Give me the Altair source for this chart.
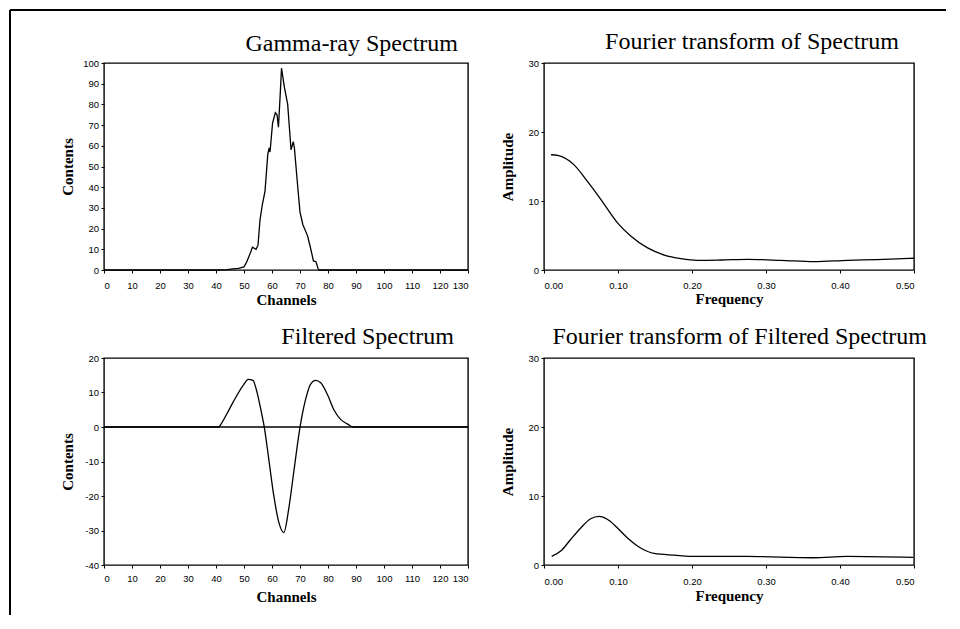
import altair as alt
import pandas as pd

# ---- Gamma-ray spectrum (channels vs contents) ----
gamma_channels = [0, 10, 20, 30, 40, 44, 46, 48, 50, 51, 52.5, 53, 54.3, 55, 55.7,
                  56.6, 57.5, 58.5, 59, 59.3, 60.2, 61.2, 61.8, 62.3, 62.9,
                  63.4, 64.4, 65.6, 66.8, 67.6, 68, 69.2, 70, 71, 72.7,
                  73.7, 74.8, 75.7, 76.5, 77, 80, 90, 100, 110, 120, 130]
gamma_contents = [0, 0, 0, 0, 0, 0.2, 0.5, 0.8, 1.5, 4, 9, 11, 10, 12, 24,
                  32, 38, 56, 59, 57, 71, 76, 75, 69, 84,
                  97.5, 88.5, 80, 58, 62, 59, 40, 28, 22, 16.5,
                  11, 4.4, 4, 0.5, 0, 0, 0, 0, 0, 0, 0]

# ---- Fourier transform of spectrum ----
fft_freq = [0.0095, 0.0185, 0.041, 0.059, 0.077, 0.0996, 0.1176, 0.14,
            0.1626, 0.185, 0.2077, 0.24, 0.275, 0.32, 0.365, 0.41, 0.45, 0.5]
fft_amp = [16.7, 16.6, 15.2, 12.8, 10.2, 6.8, 4.9, 3.2,
           2.16, 1.64, 1.4, 1.45, 1.54, 1.4, 1.2, 1.4, 1.5, 1.7]

# ---- Filtered spectrum ----
filt_channels = [0, 41, 41.5, 44, 46.3, 49.9, 51.5, 53.2, 54.7, 55.9, 57.3, 58.8,
                 60.6, 62.4, 64.2, 66, 67.8, 69.6, 70.8, 72, 73.7, 75.6,
                 77.4, 79.8, 82.1, 84.5, 86.9, 89, 130]
filt_contents = [0, 0, 0.5, 4, 7.5, 12.3, 13.8, 13.5, 9.9, 5.5, -0.3, -9,
                 -19.7, -27.5, -30.6, -23.6, -12.9, -2.2, 3.6, 8, 12.3, 13.5,
                 12.8, 9.4, 5, 2.2, 0.9, 0, 0]

# ---- Fourier transform of filtered spectrum ----
ffft_freq = [0.0104, 0.023, 0.036, 0.05, 0.063, 0.0745, 0.086, 0.099, 0.1125,
             0.13, 0.149, 0.176, 0.207, 0.274, 0.364, 0.409, 0.499]
ffft_amp = [1.24, 2.05, 3.7, 5.4, 6.7, 7.05, 6.6, 5.4, 3.95,
            2.5, 1.67, 1.43, 1.24, 1.24, 1.05, 1.24, 1.1]

channel_ticks = list(range(0, 131, 10))
contents_ticks = list(range(0, 101, 10))
filt_ticks = [-40, -30, -20, -10, 0, 10, 20]
freq_ticks = [0.0, 0.1, 0.2, 0.3, 0.4, 0.5]
amp_ticks = [0, 10, 20, 30]

titles = ["Gamma-ray Spectrum", "Fourier transform of Spectrum",
          "Filtered Spectrum", "Fourier transform of Filtered Spectrum"]

W1, W2, H = 364, 370, 207
LINE = dict(color="black", strokeWidth=1.3)


def ptitle(text, dx, off):
    return alt.TitleParams(text=text, anchor="end", frame="group", dx=dx, offset=off,
                           baseline="alphabetic", font="Liberation Serif",
                           fontSize=24, fontWeight="normal", color="black")


def xaxis(title, values, fmt, pad, ty):
    return alt.Axis(title=title, values=values, format=fmt, labelPadding=pad,
                    titleY=ty, titleBaseline="alphabetic")


def yaxis(title, values):
    return alt.Axis(title=title, values=values, labelPadding=2.5,
                    labelExpr="replace(datum.label, '\u2212', '-')",
                    titleX=-32, titleY=H / 2, titleBaseline="alphabetic",
                    titleAlign="center", titleAngle=-90)


# Top-left
df_g = pd.DataFrame({"channel": gamma_channels, "contents": gamma_contents})
tl_line = alt.Chart(df_g).mark_line(**LINE).encode(
    x=alt.X("channel:Q", scale=alt.Scale(domain=[0, 130], nice=False, zero=False),
            axis=xaxis("Channels", channel_ticks, "d", 7.5, 34)),
    y=alt.Y("contents:Q", scale=alt.Scale(domain=[0, 100], nice=False),
            axis=yaxis("Contents", contents_ticks)),
)
frame_df = pd.DataFrame({"k": [0]})
frame_left = alt.Chart(frame_df).mark_rule(color="black", strokeWidth=2).encode(
    x=alt.value(-94), y=alt.value(-53), y2=alt.value(552))
frame_top = alt.Chart(frame_df).mark_rule(color="black", strokeWidth=2).encode(
    x=alt.value(-94), x2=alt.value(842), y=alt.value(-53))
tl = alt.layer(tl_line, frame_left, frame_top).properties(
    width=W1, height=H, title=ptitle(titles[0], -10, -66))

# Top-right
df_f = pd.DataFrame({"freq": fft_freq, "amp": fft_amp})
tr = alt.Chart(df_f).mark_line(interpolate="monotone", **LINE).encode(
    x=alt.X("freq:Q", scale=alt.Scale(domain=[0, 0.5], nice=False, zero=False),
            axis=xaxis("Frequency", freq_ticks, ".2f", 7.5, 33)),
    y=alt.Y("amp:Q", scale=alt.Scale(domain=[0, 30], nice=False),
            axis=yaxis("Amplitude", amp_ticks)),
).properties(width=W2, height=H, title=ptitle(titles[1], -15, -15))

# Bottom-left
bl_scale = alt.Scale(domain=[-40, 20], nice=False, zero=False)
bl_yaxis = yaxis("Contents", filt_ticks)
df_fs = pd.DataFrame({"channel": filt_channels, "contents": filt_contents})
bl_line = alt.Chart(df_fs).mark_line(interpolate="monotone", **LINE).encode(
    x=alt.X("channel:Q", scale=alt.Scale(domain=[0, 130], nice=False, zero=False),
            axis=xaxis("Channels", channel_ticks, "d", 5, 36)),
    y=alt.Y("contents:Q", scale=bl_scale, axis=bl_yaxis),
)
zero_df = pd.DataFrame({"contents": [0]})
bl_zero = alt.Chart(zero_df).mark_rule(color="black", strokeWidth=1.3).encode(
    y=alt.Y("contents:Q", scale=bl_scale, axis=bl_yaxis))
bl = alt.layer(bl_line, bl_zero).properties(
    width=W1, height=H, title=ptitle(titles[2], -14, -15))

# Bottom-right
df_ff = pd.DataFrame({"freq": ffft_freq, "amp": ffft_amp})
br = alt.Chart(df_ff).mark_line(interpolate="monotone", **LINE).encode(
    x=alt.X("freq:Q", scale=alt.Scale(domain=[0, 0.5], nice=False, zero=False),
            axis=xaxis("Frequency", freq_ticks, ".2f", 8, 35)),
    y=alt.Y("amp:Q", scale=alt.Scale(domain=[0, 30], nice=False),
            axis=yaxis("Amplitude", amp_ticks)),
).properties(width=W2, height=H, title=ptitle(titles[3], 13, -15))

chart = alt.concat(tl, tr, bl, br, columns=2,
                   spacing={"row": 88, "column": 76}, bounds="flush").properties(
    padding=0, background="white"
).configure_view(stroke="black", strokeWidth=1.4).configure_axis(
    labelFont="Liberation Sans", labelFontSize=9.5, labelColor="black",
    labelOverlap=False, labelBound=False,
    tickColor="black", tickSize=3, tickWidth=1, domain=False, grid=False,
    titleFont="Liberation Serif", titleFontSize=15, titleFontWeight="bold",
    titleColor="black",
)

chart.save("out.html", embed_options={"renderer": "svg", "actions": False})
